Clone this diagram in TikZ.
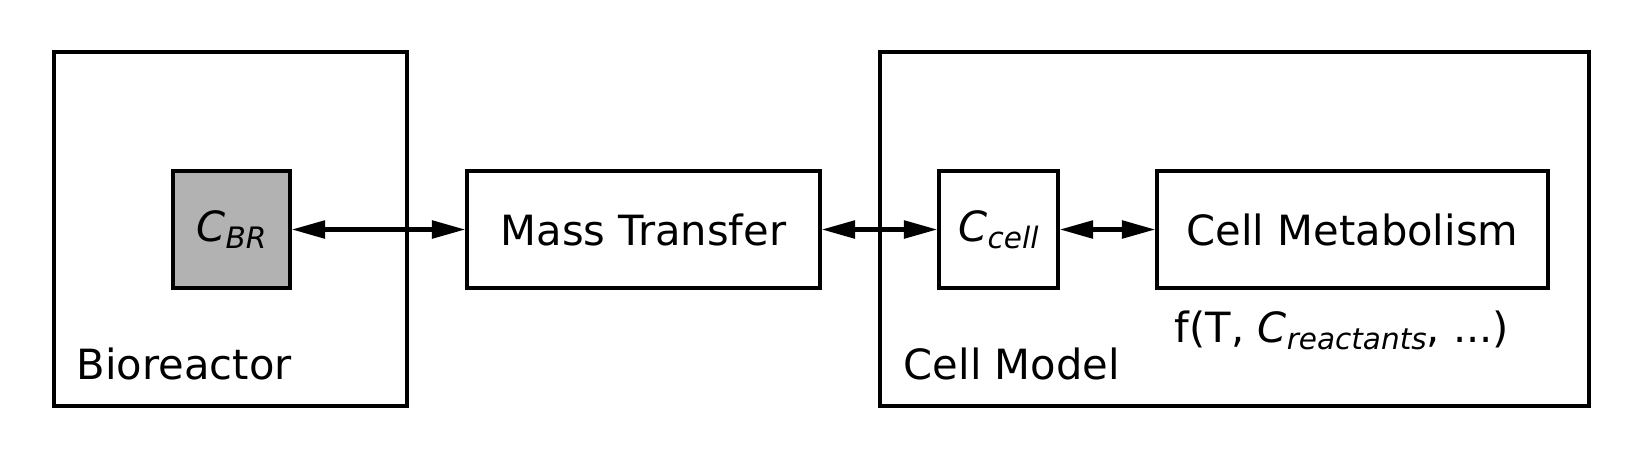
\documentclass[tikz,border=0pt]{standalone}
\usepackage{fontspec}
\setmainfont{DejaVu Sans}
\usetikzlibrary{arrows.meta}
\definecolor{brgray}{gray}{0.7}
\newcommand\lowsub[1]{\raisebox{-4pt}{\fontsize{16.8}{17}\selectfont\itshape #1}}
\begin{document}
\begin{tikzpicture}[x=0.02cm,y=-0.02cm,line width=2.1pt,
  font=\fontsize{23.7}{28}\selectfont,
  blockbox/.style={draw,inner sep=0pt,minimum height=2.34cm},
  outerbox/.style={draw,inner sep=0pt,minimum height=7.08cm},
  plainlabel/.style={inner sep=0pt},
  biarrow/.style={line width=2.3pt,{Triangle[length=19pt,width=10pt]}-{Triangle[length=19pt,width=10pt]}}]
\useasboundingbox (0,0) rectangle (1642,461);
% outer frames
\node[outerbox,minimum width=7.06cm] (bioreactor) at (230.5,229) {};
\node[outerbox,minimum width=14.18cm] (cellmodel) at (1234.5,229) {};
\node[plainlabel,anchor=base west] (brlabel) at (75,379) {Bioreactor};
\node[plainlabel,anchor=base west] (cmlabel) at (902,379) {Cell Model};
% blocks
\node[blockbox,fill=brgray,minimum width=2.34cm] (cbr) at (231.5,229.5) {{\itshape C}\lowsub{BR}};
\node[blockbox,minimum width=7.06cm] (masstr) at (643.5,229.5) {Mass Transfer};
\node[blockbox,minimum width=2.38cm] (ccell) at (998.5,229.5) {{\itshape C}\lowsub{cell}};
\node[blockbox,minimum width=7.82cm] (metab) at (1352.5,229.5) {Cell Metabolism};
\node[plainlabel,anchor=base] (fterm) at (1342,342) {f(T, {\itshape C}\lowsub{reactants}, ...)};
% exchanges
\draw[biarrow] (cbr) -- (masstr);
\draw[biarrow] (masstr) -- (ccell);
\draw[biarrow] (ccell) -- (metab);
\end{tikzpicture}
\end{document}
